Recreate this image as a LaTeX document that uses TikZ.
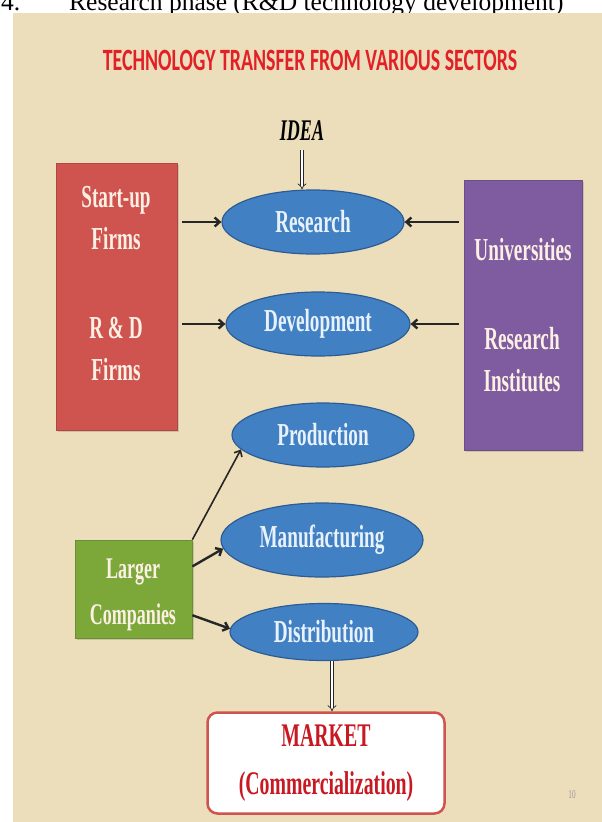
\documentclass[tikz,border=0pt]{standalone}
\usepackage{fontspec}
\setmainfont{Liberation Serif}
\newfontfamily\slidefont[FakeStretch=0.6]{Liberation Serif}
\newfontfamily\titlefont[FakeStretch=0.64]{Carlito}
\usepackage{xcolor}
\usepackage{tikz}
\usetikzlibrary{positioning,shapes,calc,arrows.meta,shadows}
\definecolor{parch}{RGB}{236,222,186}
\definecolor{redbox}{RGB}{207,83,78}
\definecolor{purplebox}{RGB}{127,92,160}
\definecolor{greenbox}{RGB}{124,168,58}
\definecolor{ovalblue}{RGB}{66,128,196}
\definecolor{ovalrim}{RGB}{44,92,150}
\definecolor{ovaltext}{RGB}{232,242,252}
\definecolor{boxtext}{RGB}{252,240,228}
\definecolor{titlered}{RGB}{226,32,40}
\definecolor{marketred}{RGB}{200,24,34}
\tikzset{
  basic/.style   = {align=center, inner sep=0pt},
  sector/.style  = {rectangle, fill=#1, draw=#1!85!black, line width=0.8pt,
                    drop shadow={opacity=0.3}},
  boxtext/.style = {basic, text=boxtext,
                    font=\slidefont\bfseries\fontsize{32}{42}\selectfont},
  stage/.style   = {basic, ellipse, draw=ovalrim, fill=ovalblue, line width=1.2pt,
                    text=ovaltext, minimum height=64pt,
                    font=\slidefont\bfseries\fontsize{32}{38}\selectfont},
  market/.style  = {basic, rectangle, rounded corners=10pt, draw=redbox, fill=white,
                    line width=2.5pt, text=marketred,
                    font=\slidefont\bfseries\fontsize{33}{48}\selectfont},
  post/.style    = {-{Straight Barb[length=5pt,width=9pt]}, line width=2.4pt, black!85,
                    shorten <=5pt},
  dbl/.style     = {-{Implies}, double, double distance=2.4pt, line width=0.7pt,
                    black!85}
}
\begin{document}
\begin{tikzpicture}[x=1pt, y=-1pt]
  \clip (0,0) rectangle (602,822);
  \fill[white] (0,0) rectangle (602,822);
  % line of the page above, cut off
  \node[anchor=base west, inner sep=0pt, font=\fontsize{25.5}{30}\selectfont] (num) at (1,10) {4.};
  \node[anchor=base west, inner sep=0pt, font=\fontsize{25.5}{30}\selectfont] (phase) at (69,10)
       {Research phase (R\&D technology development)};
  \fill[parch] (13,13) rectangle (602,822);

  \node[basic, text=titlered, font=\titlefont\bfseries\fontsize{31}{36}\selectfont] (title) at (310,60)
       {TECHNOLOGY TRANSFER FROM VARIOUS SECTORS};
  \node[basic, font=\slidefont\bfseries\itshape\fontsize{30}{34}\selectfont] (idea) at (302,131) {IDEA};

  % the sectors
  \node[sector=redbox, minimum width=121pt, minimum height=267pt] (firms) at (116.5,296.5) {};
  \node[sector=purplebox, minimum width=118pt, minimum height=270pt] (institutions) at (523,315) {};
  \node[sector=greenbox, minimum width=117pt, minimum height=98pt] (companies) at (133.5,589) {};
  \node[boxtext] (startup) at (116,218) {Start-up\\Firms};
  \node[boxtext] (rdfirms) at (116,349) {R \& D\\Firms};
  \node[boxtext] (univ) at (523,250) {Universities};
  \node[boxtext] (institutes) at (522,360) {Research\\Institutes};
  \node[boxtext, font=\slidefont\bfseries\fontsize{30}{46}\selectfont] (larger) at (133,595) {Larger\\Companies};

  % the stages
  \node[stage, minimum width=182pt] (research) at (313,222) {Research};
  \node[stage, minimum width=184pt] (development) at (318,324) {Development};
  \node[stage, minimum width=182pt] (production) at (323,435) {Production};
  \node[stage, minimum width=202pt, minimum height=74pt] (manufacturing) at (322,540) {Manufacturing};
  \node[stage, minimum width=188pt, minimum height=57pt] (distribution) at (324,632) {Distribution};

  \node[market, minimum width=237pt, minimum height=101pt] (market) at (326,763)
       {MARKET\\(Commercialization)};
  \node[basic, text=black!40, font=\slidefont\fontsize{12}{14}\selectfont] (pageno) at (572,795) {10};

  % arrows
  \draw[dbl, shorten <=9pt] (idea.south) -- (idea.south |- research.north);
  \draw[post] (firms.east |- research.west) -- (research.west);
  \draw[post] (firms.east |- development.west) -- (development.west);
  \draw[post] (institutions.west |- research.east) -- (research.east);
  \draw[post] (institutions.west |- development.east) -- (development.east);
  \draw[post, line width=1.6pt, shorten <=0pt] (companies.north east) -- (production.190);
  \draw[post, shorten <=0pt] (companies.21) -- (manufacturing.185);
  \draw[post, shorten <=0pt] (companies.-24) -- (distribution.178);
  \draw[dbl] ([xshift=8pt]distribution.south) -- ([xshift=8pt]distribution.south |- market.north);
\end{tikzpicture}
\end{document}
